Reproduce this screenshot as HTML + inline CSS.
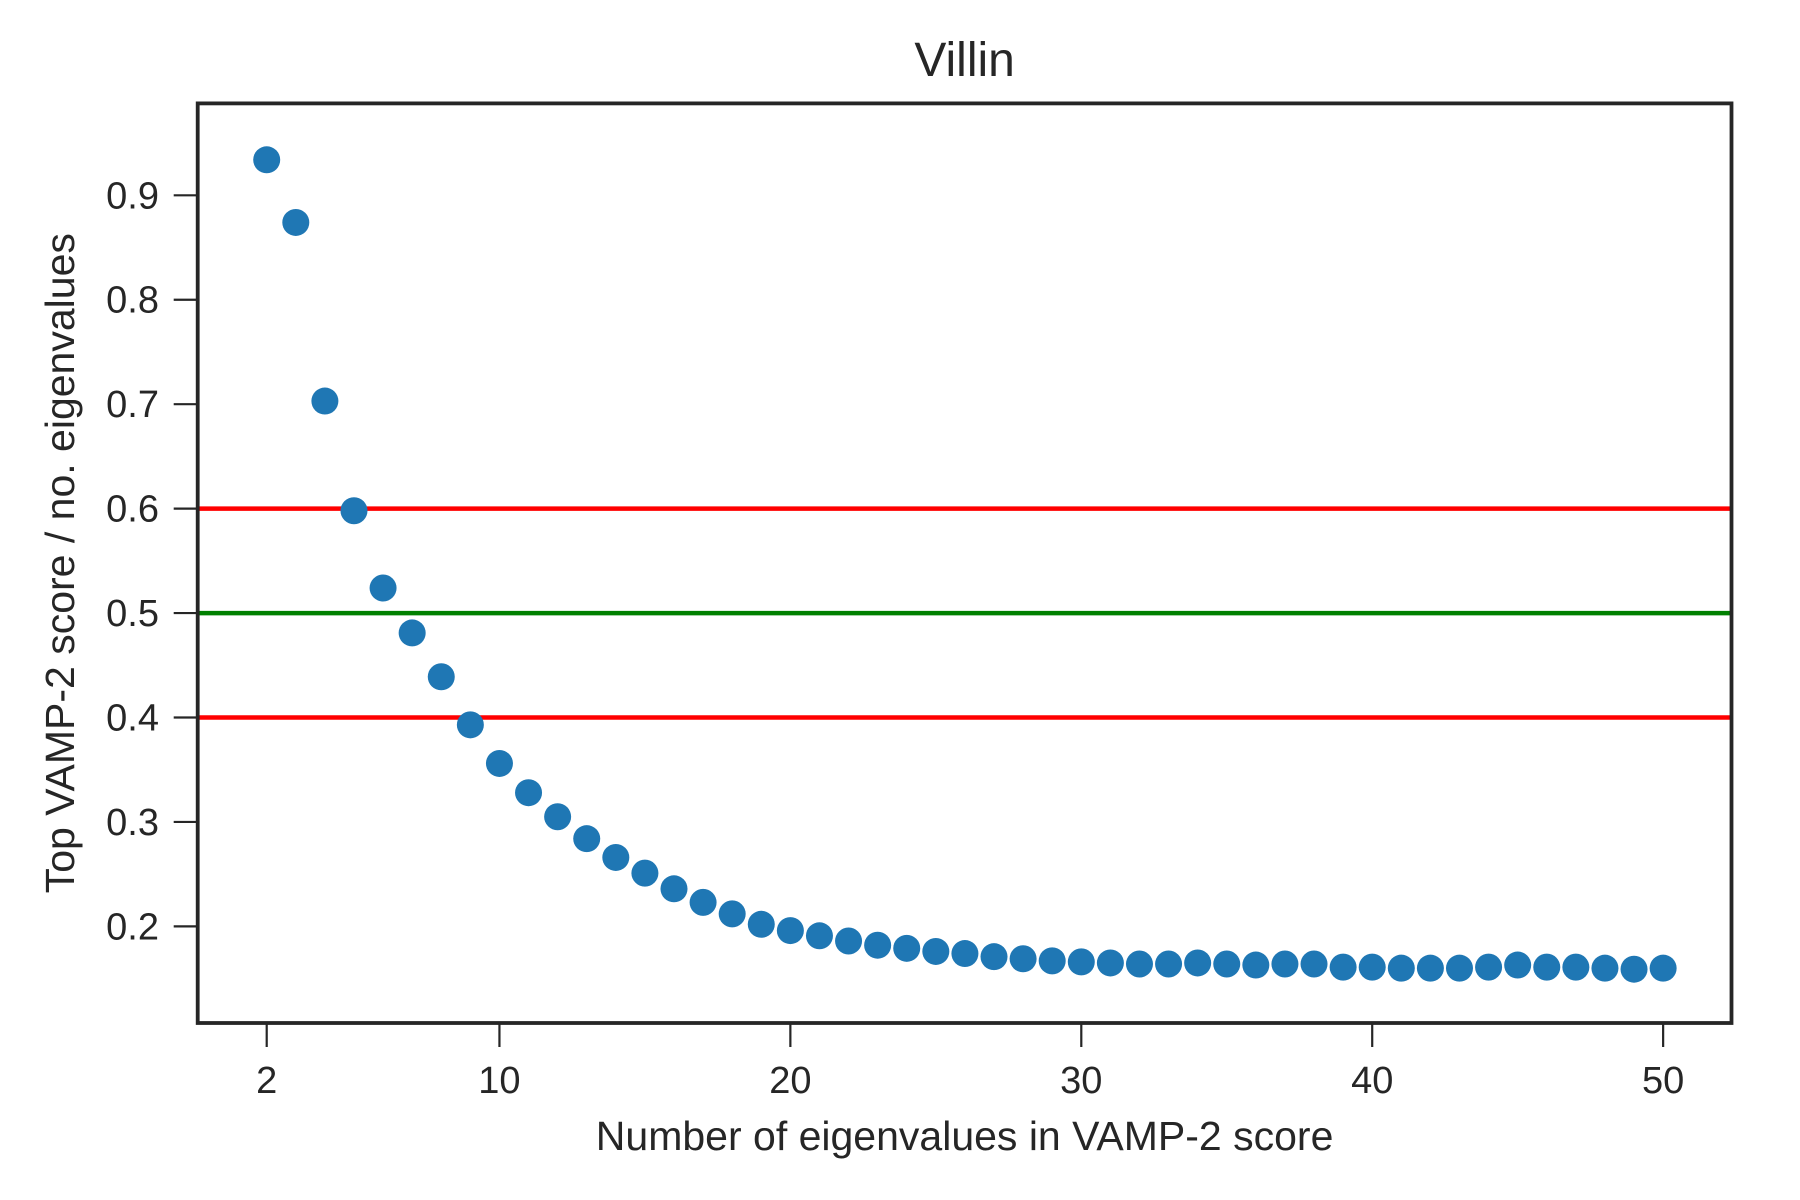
<!DOCTYPE html>
<html><head><meta charset="utf-8"><style>
html,body{margin:0;padding:0;background:#fff;}
svg{display:block;font-family:"Liberation Sans",Arial,sans-serif;}
</style></head><body>
<svg id="chart" width="1800" height="1200" viewBox="0 0 1800 1200" xmlns="http://www.w3.org/2000/svg">
<rect width="1800" height="1200" fill="#fff"/>
<g id="plot"></g>
</svg>
<script>
const xValues = [2,3,4,5,6,7,8,9,10,11,12,13,14,15,16,17,18,19,20,21,22,23,24,25,26,27,28,29,30,31,32,33,34,35,36,37,38,39,40,41,42,43,44,45,46,47,48,49,50];
const yValues = [0.934,0.874,0.703,0.598,0.524,0.481,0.439,0.393,0.356,0.328,0.305,0.284,0.266,0.251,0.236,0.223,0.212,0.202,0.196,0.191,0.186,0.182,0.179,0.176,0.174,0.171,0.169,0.167,0.166,0.165,0.164,0.164,0.165,0.164,0.163,0.164,0.164,0.161,0.161,0.160,0.160,0.160,0.161,0.163,0.161,0.161,0.160,0.159,0.160];
const xTicks = [2,10,20,30,40,50];
const yTicks = [0.2,0.3,0.4,0.5,0.6,0.7,0.8,0.9];
const refLines = [0.6,0.5,0.4];
const refColors = ['#ff0000','#008000','#ff0000'];

const L=197.7,R=1731.5,T=103.4,B=1023;
const xMin=-0.372,xMax=52.35,yMin=0.1075,yMax=0.988;
const sx=v=>L+(v-xMin)/(xMax-xMin)*(R-L);
const sy=v=>B-(v-yMin)/(yMax-yMin)*(B-T);
const NS='http://www.w3.org/2000/svg';
const g=document.getElementById('plot');
function mk(tag,attrs,parent){const e=document.createElementNS(NS,tag);for(const k in attrs)e.setAttribute(k,attrs[k]);(parent||g).appendChild(e);return e;}

refLines.forEach((v,i)=>{
  const l=mk('line',{x1:L,x2:R,y1:sy(v),y2:sy(v),stroke:refColors[i],'stroke-width':4.5});
  
  
});
xValues.forEach((x,i)=>{
  const c=mk('circle',{cx:sx(x),cy:sy(yValues[i]),r:13.5,fill:'#1f77b4'});
  
  
});
const frame=mk('rect',{x:L,y:T,width:R-L,height:B-T,fill:'none',stroke:'#262626','stroke-width':3.8});


xTicks.forEach(v=>{
  const x=sx(v);
  mk('line',{x1:x,x2:x,y1:B,y2:B+24,stroke:'#262626','stroke-width':2.2});
  const t=mk('text',{x:x,y:1093,'text-anchor':'middle','font-size':38,fill:'#262626'});
  t.textContent=v;
  
  
});
yTicks.forEach(v=>{
  const y=sy(v);
  mk('line',{x1:L-24,x2:L,y1:y,y2:y,stroke:'#262626','stroke-width':2.2});
  const t=mk('text',{x:159,y:y+13,'text-anchor':'end','font-size':38,fill:'#262626'});
  t.textContent=v.toFixed(1);
  
  
});
const title=mk('text',{x:(L+R)/2,y:76,'text-anchor':'middle','font-size':48,fill:'#262626'});
title.textContent='Villin';


const xl=mk('text',{x:(L+R)/2,y:1150,'text-anchor':'middle','font-size':41,fill:'#262626'});
xl.textContent='Number of eigenvalues in VAMP-2 score';


const yl=mk('text',{x:0,y:0,'text-anchor':'middle','font-size':41,fill:'#262626',transform:'translate(74,'+((T+B)/2)+') rotate(-90)'});
yl.textContent='Top VAMP-2 score / no. eigenvalues';


</script>
</body></html>
